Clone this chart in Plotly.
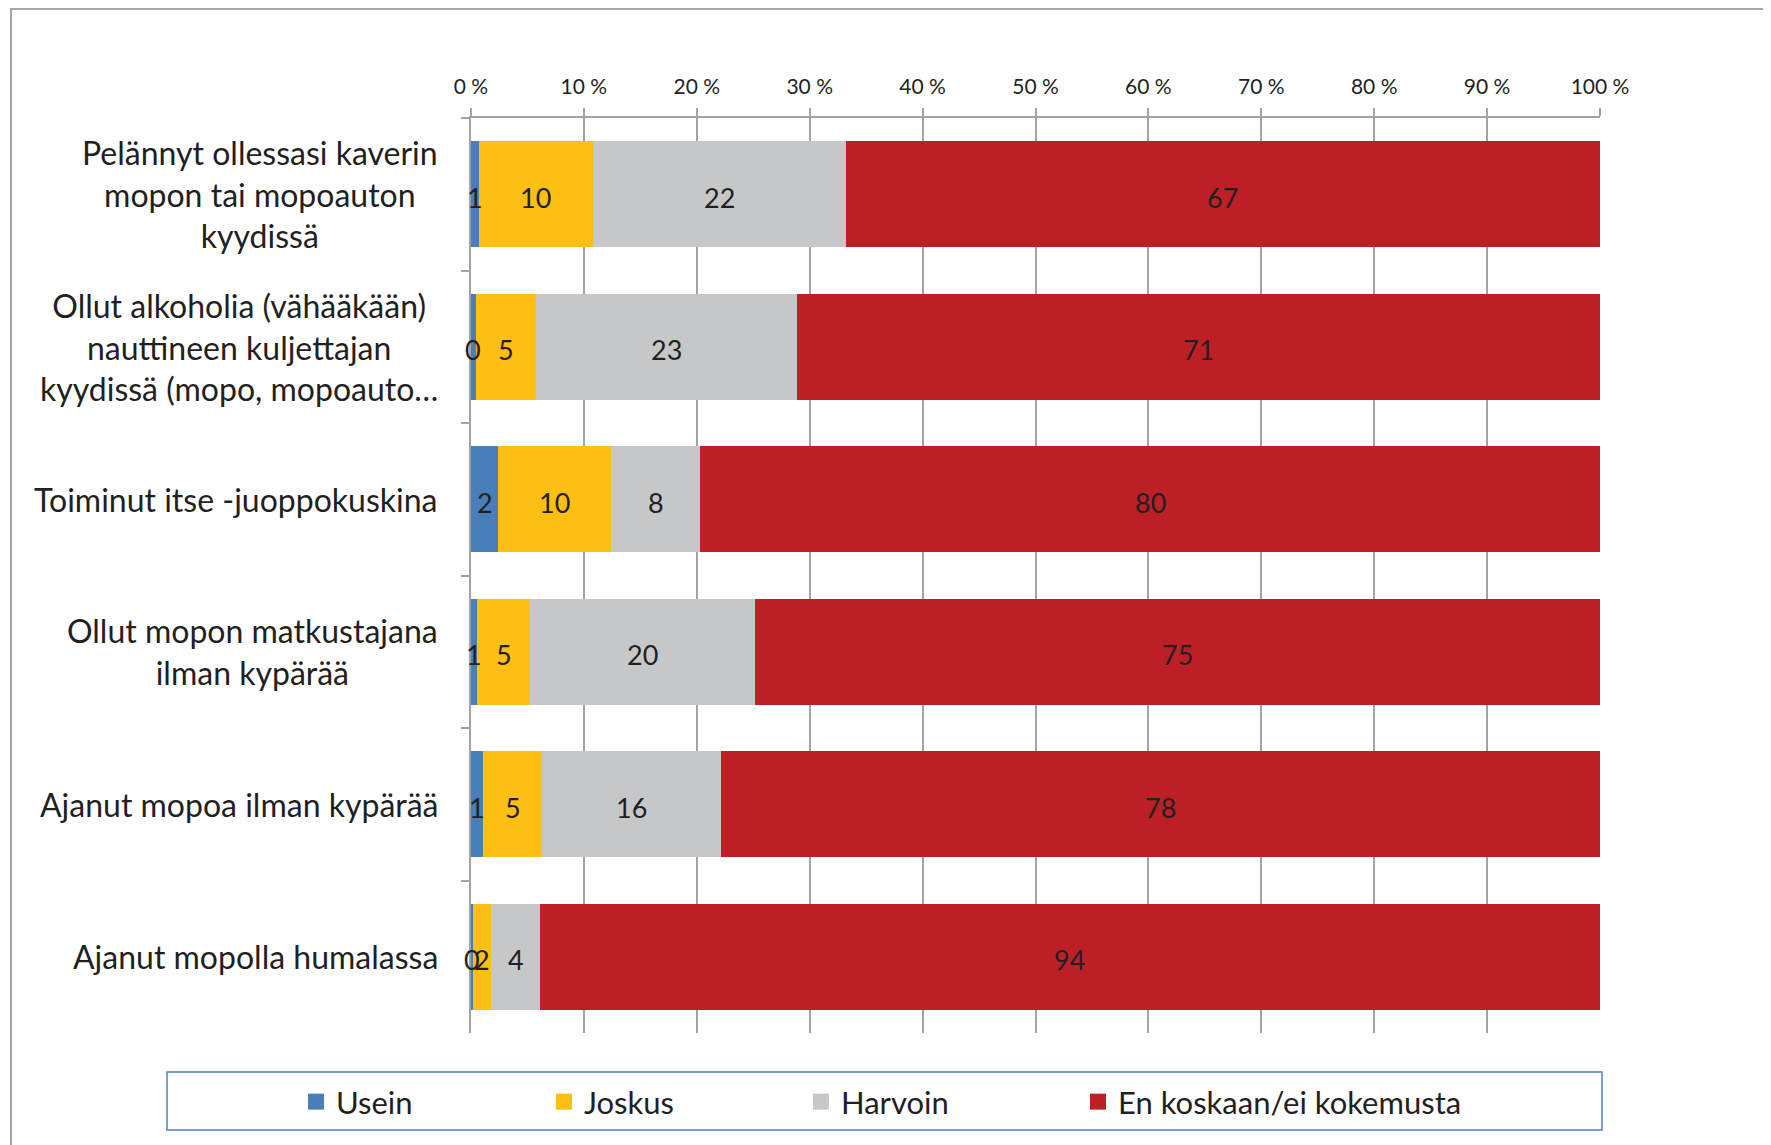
import plotly.graph_objects as go

categories = [
    "Pelännyt ollessasi kaverin<br>mopon tai mopoauton<br>kyydissä",
    "Ollut alkoholia (vähääkään)<br>nauttineen kuljettajan<br>kyydissä (mopo, mopoauto…",
    "Toiminut itse -juoppokuskina",
    "Ollut mopon matkustajana<br>ilman kypärää",
    "Ajanut mopoa ilman kypärää",
    "Ajanut mopolla humalassa",
]
series_names = ["Usein", "Joskus", "Harvoin", "En koskaan/ei kokemusta"]
usein = [0.7, 0.4, 2.4, 0.55, 1.1, 0.2]
joskus = [10.1, 5.4, 10.0, 4.7, 5.2, 1.6]
harvoin = [22.4, 23.1, 7.9, 19.9, 15.8, 4.3]
en_koskaan = [66.8, 71.1, 79.7, 74.9, 77.9, 93.9]
tick_values = [0, 10, 20, 30, 40, 50, 60, 70, 80, 90, 100]
tick_labels = ["0 %", "10 %", "20 %", "30 %", "40 %", "50 %", "60 %", "70 %", "80 %", "90 %", "100 %"]

colors = ["#4A7EBB", "#FDBF12", "#C6C7C9", "#BD1F26"]
FONT = "Lato"
TXT = "#231F20"
GRID = "#A3A3A7"

OFF = 8  # page body margin
W, H = 1771 - OFF, 1145 - OFF
L, R, T, B = 471 - OFF, 171, 118 - OFF, 112
pw, ph = W - L - R, H - T - B

def px(x):
    return (x - OFF - L) / pw

def py(y):
    return (H - B - (y - OFF)) / ph

series = [usein, joskus, harvoin, en_koskaan]
fig = go.Figure()
for name, vals, col in zip(series_names, series, colors):
    fig.add_trace(go.Bar(
        name=name, y=categories, x=vals, orientation="h",
        marker=dict(color=col, line=dict(width=0)),
        showlegend=False, hoverinfo="skip",
    ))

# data labels on top of all bars, centred in each segment
starts = [0.0] * len(categories)
for vals in series:
    for c, s, v in zip(categories, starts, vals):
        fig.add_annotation(
            x=s + v / 2, y=c, xref="x", yref="y", text=f"{v:.0f}",
            showarrow=False, xanchor="center", yanchor="middle", yshift=-3,
            font=dict(family=FONT, size=27, color=TXT),
        )
    starts = [s + v for s, v in zip(starts, vals)]

# legend entries, each in its own legend to match the spacing
legend_names = ["legend", "legend2", "legend3", "legend4"]
legend_x = [324, 572, 829, 1106]
for name, col, lg in zip(series_names, colors, legend_names):
    fig.add_trace(go.Scatter(
        x=[None], y=[None], mode="markers", name=name, legend=lg,
        marker=dict(symbol="square", size=20, color=col), hoverinfo="skip",
    ))

for c in categories:
    fig.add_annotation(
        x=0, xref="paper", y=c, yref="y", xanchor="right", yanchor="middle",
        xshift=-31, text=c, showarrow=False, align="center",
        font=dict(family=FONT, size=32, color=TXT),
    )

# outer frame
fig.add_shape(type="rect", xref="paper", yref="paper",
              x0=px(11), x1=px(1800), y0=py(1170), y1=py(9),
              line=dict(color="#A6A6A6", width=2), layer="below")
# legend box
fig.add_shape(type="rect", xref="paper", yref="paper",
              x0=px(167), x1=px(1602), y0=py(1130), y1=py(1072),
              line=dict(color="#4F81BD", width=1.5))

legends = {}
for lg, lx in zip(legend_names, legend_x):
    legends[lg] = dict(orientation="h", x=px(lx - 28), xanchor="left",
                       y=py(1102), yanchor="middle",
                       font=dict(family=FONT, size=31, color=TXT),
                       itemsizing="trace", bgcolor="rgba(0,0,0,0)")

fig.update_layout(
    width=W, height=H, barmode="stack", bargap=0.305,
    margin=dict(l=L, r=R, t=T, b=B, autoexpand=False),
    paper_bgcolor="white", plot_bgcolor="white",
    font=dict(family=FONT, color=TXT),
    showlegend=True,
    xaxis=dict(side="top", range=[0, 100], tickvals=tick_values, ticktext=tick_labels,
               showgrid=True, gridcolor=GRID, gridwidth=1.5,
               showline=True, linecolor=GRID, linewidth=1.5,
               ticks="outside", ticklen=8, tickcolor=GRID, tickwidth=1.5,
               ticklabelstandoff=6,
               tickfont=dict(family=FONT, size=21, color=TXT), zeroline=False,
               fixedrange=True),
    yaxis=dict(autorange="reversed", showticklabels=False, showgrid=False,
               showline=True, linecolor=GRID, linewidth=1.5,
               ticks="outside", tickson="boundaries", ticklen=8, tickcolor=GRID, tickwidth=1.5,
               fixedrange=True),
    **legends,
)

fig.write_html("out.html")
